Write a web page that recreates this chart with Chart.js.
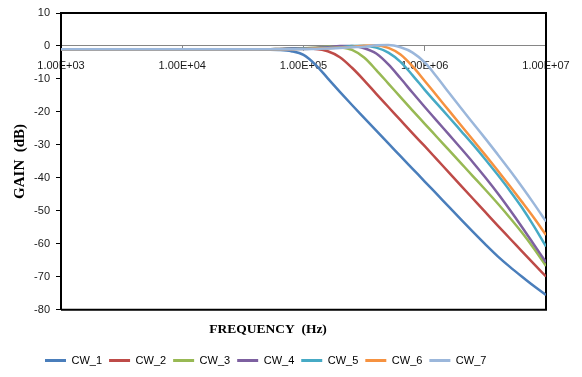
<!DOCTYPE html>
<html>
<head>
<meta charset="utf-8">
<script src="https://cdn.jsdelivr.net/npm/chart.js@4.4.1/dist/chart.umd.min.js"></script>
<style>
html,body{margin:0;padding:0;background:#fff;}
#wrap{width:582px;height:377px;position:relative;}
</style>
</head>
<body>
<div id="wrap"><canvas id="c" width="582" height="377"></canvas></div>
<script>
// ---- data ----
const frequencies = [1000, 3162, 10000, 31623, 50119, 63096, 79433, 100000, 125893, 158489, 199526, 251189, 316228, 398107, 501187, 630957, 794328, 1000000, 1258925, 1584893, 1995262, 2511886, 3162278, 3981072, 5011872, 6309573, 7943282, 10000000];

const seriesNames = ['CW_1', 'CW_2', 'CW_3', 'CW_4', 'CW_5', 'CW_6', 'CW_7'];

const cw1 = [-1.0, -1.0, -1.0, -1.0, -1.1, -1.2, -1.6, -2.7, -5.7, -9.8, -13.9, -17.9, -21.8, -25.7, -29.55, -33.4, -37.25, -41.1, -44.95, -48.8, -52.65, -56.45, -60.15, -63.7, -66.9, -69.9, -72.8, -75.5];
const cw2 = [-1.0, -1.0, -1.0, -1.0, -1.0, -1.0, -0.9, -0.8, -0.9, -1.6, -3.4, -6.6, -10.4, -14.5, -18.5, -22.5, -26.5, -30.4, -34.4, -38.4, -42.4, -46.4, -50.4, -54.4, -58.3, -62.2, -66.1, -69.9];
const cw3 = [-1.0, -1.0, -1.0, -1.0, -1.0, -0.9, -0.8, -0.7, -0.5, -0.2, -0.4, -1.2, -3.5, -7.3, -11.4, -15.5, -19.6, -23.6, -27.6, -31.6, -35.6, -39.6, -43.6, -47.7, -52.0, -56.5, -61.4, -66.7];
const cw4 = [-1.0, -1.0, -1.0, -1.0, -1.0, -0.9, -0.8, -0.7, -0.6, -0.4, 0.0, 0.0, -0.7, -2.3, -5.6, -9.8, -14.2, -18.5, -22.7, -26.9, -31.1, -35.4, -39.9, -44.6, -49.6, -54.8, -60.2, -65.6];
const cw5 = [-1.0, -1.0, -1.0, -1.0, -1.0, -1.0, -0.9, -0.8, -0.7, -0.6, -0.4, 0.0, 0.1, -0.5, -2.0, -4.8, -8.9, -13.3, -17.5, -21.6, -25.8, -30.0, -34.4, -39.0, -43.8, -48.9, -54.6, -60.8];
const cw6 = [-1.0, -1.0, -1.0, -1.0, -1.0, -1.0, -1.0, -0.9, -0.8, -0.7, -0.5, -0.3, 0.1, 0.2, -0.6, -2.6, -6.2, -10.6, -15.1, -19.6, -24.1, -28.6, -33.1, -37.7, -42.4, -47.2, -52.1, -57.3];
const cw7 = [-1.0, -1.0, -1.0, -1.0, -1.0, -1.0, -1.0, -1.0, -0.9, -0.8, -0.6, -0.4, -0.2, 0.2, 0.3, -0.4, -2.0, -5.0, -9.4, -14.2, -18.9, -23.5, -28.1, -32.8, -37.6, -42.6, -47.8, -53.2];

const xTickValues = [1000, 10000, 100000, 1000000, 10000000];
const xTickLabels = ['1.00E+03', '1.00E+04', '1.00E+05', '1.00E+06', '1.00E+07'];

const seriesValues = [cw1, cw2, cw3, cw4, cw5, cw6, cw7];
const seriesColors = ['#4a7ebb', '#be4b48', '#98b954', '#7d60a0', '#46aac5', '#f69240', '#9bb7db'];

// ---- chart ----
const datasets = seriesNames.map((name, i) => ({
  label: name,
  data: frequencies.map((f, j) => ({x: f, y: seriesValues[i][j]})),
  borderColor: seriesColors[i],
  backgroundColor: seriesColors[i],
  borderWidth: 2.5,
  pointRadius: 0,
  cubicInterpolationMode: 'monotone',
  fill: false,
  order: seriesNames.length - i
}));

const framePlugin = {
  id: 'frame',
  beforeDatasetsDraw(chart) {
    const {ctx, chartArea: a} = chart;
    ctx.save();
    ctx.strokeStyle = '#000';
    ctx.lineWidth = 2;
    ctx.beginPath();
    ctx.moveTo(a.left, a.top);
    ctx.lineTo(a.right, a.top);
    ctx.lineTo(a.right, a.bottom);
    ctx.lineTo(a.left, a.bottom);
    ctx.stroke();
    ctx.restore();
  },
  afterLayout(chart) {
    const lg = chart.legend;
    if (lg) {
      const w = lg.right - lg.left;
      lg.left = 38;
      lg.right = lg.left + w;
    }
    const tb = chart.titleBlock;
    if (tb) {
      const w = tb.right - tb.left;
      tb.left = 268 - w / 2;
      tb.right = 268 + w / 2;
    }
  }
};

const sansFont = "'Liberation Sans', Arial, sans-serif";

new Chart(document.getElementById('c'), {
  type: 'line',
  data: {datasets},
  plugins: [framePlugin],
  options: {
    responsive: false,
    animation: false,
    events: [],
    layout: {padding: {top: 13, right: 36, bottom: 1, left: 0}},
    scales: {
      x: {
        type: 'logarithmic',
        position: {y: 0},
        min: 1000,
        max: 10000000,
        afterBuildTicks: (scale) => { scale.ticks = xTickValues.map(v => ({value: v})); },
        ticks: {
          autoSkip: false,
          maxRotation: 0,
          padding: 8,
          color: '#1a1a1a',
          font: {family: sansFont, size: 11},
          callback: (v) => { const k = xTickValues.indexOf(v); return k >= 0 ? xTickLabels[k] : ''; }
        },
        grid: {drawOnChartArea: false, drawTicks: true, tickLength: 5, color: '#868686'},
        border: {color: '#868686', width: 1}
      },
      y: {
        type: 'linear',
        position: 'left',
        min: -80,
        max: 10,
        afterFit: (scale) => { scale.width = 61; },
        ticks: {
          stepSize: 10,
          padding: 6,
          color: '#1a1a1a',
          font: {family: sansFont, size: 11}
        },
        grid: {drawOnChartArea: false, drawTicks: true, tickLength: 5, color: '#000'},
        border: {color: '#000', width: 2},
        title: {
          display: true,
          text: 'GAIN  (dB)',
          color: '#000',
          font: {family: "'Liberation Serif', 'Times New Roman', serif", size: 15, weight: 'bold'},
          padding: {top: 11, bottom: 0}
        }
      }
    },
    plugins: {
      tooltip: {enabled: false},
      title: {
        display: true,
        text: 'FREQUENCY  (Hz)',
        position: 'bottom',
        weight: 500,
        color: '#000',
        font: {family: "'Liberation Serif', 'Times New Roman', serif", size: 13.5, weight: 'bold'},
        padding: {top: 12, bottom: 10}
      },
      legend: {
        display: true,
        position: 'bottom',
        align: 'start',
        labels: {
          boxWidth: 21,
          boxHeight: 3,
          padding: 7,
          color: '#404040',
          font: {family: sansFont, size: 11},
          sort: (a, b) => a.datasetIndex - b.datasetIndex,
          generateLabels: (chart) => chart.data.datasets.map((d, i) => ({
            text: d.label,
            fillStyle: d.borderColor,
            strokeStyle: d.borderColor,
            lineWidth: 0,
            hidden: false,
            datasetIndex: i
          }))
        }
      }
    }
  }
});
</script>
</body>
</html>
